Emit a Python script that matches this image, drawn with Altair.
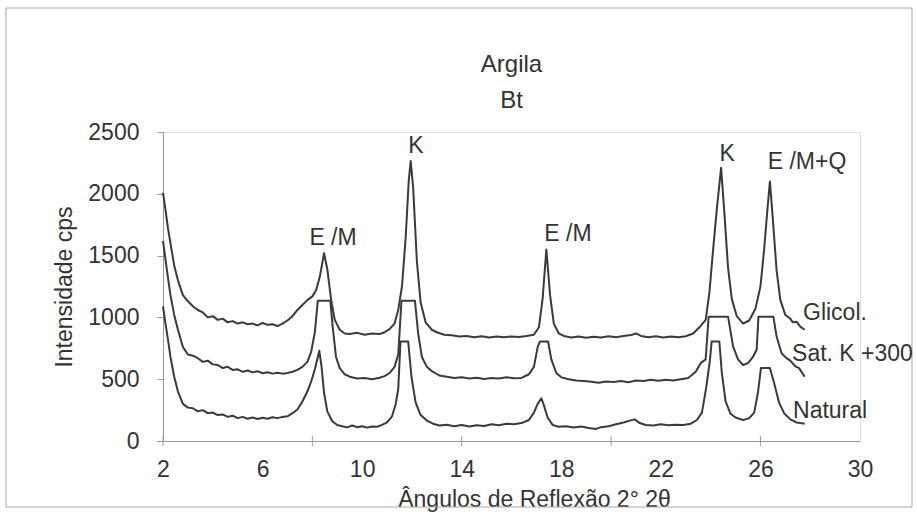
import altair as alt
import pandas as pd

FONT = "Liberation Sans Narrow, Liberation Sans, Arial Narrow, sans-serif"
INK = "#333333"
LINE = "#3a3a3a"

# ---- Glicol. (top trace) ----
glicol_theta = [2.0, 2.1, 2.2, 2.3, 2.45, 2.6, 2.8, 3.0, 3.2, 3.4, 3.6, 3.8, 4.0, 4.2, 4.4, 4.6, 4.8,
                5.0, 5.2, 5.4, 5.6, 5.8, 6.0, 6.2, 6.4, 6.6, 6.8, 7.0, 7.2, 7.4, 7.6, 7.8, 8.0, 8.15,
                8.3, 8.47, 8.6, 8.75, 8.9, 9.1, 9.3, 9.5, 9.8, 10.1, 10.4, 10.7, 10.9, 11.1, 11.3,
                11.45, 11.6, 11.75, 11.87, 11.95, 12.05, 12.2, 12.35, 12.55, 12.8, 13.0, 13.3, 13.6,
                13.9, 14.2, 14.5, 14.8, 15.1, 15.4, 15.7, 16.0, 16.3, 16.6, 16.9, 17.1, 17.25, 17.4,
                17.55, 17.7, 17.9, 18.1, 18.4, 18.7, 19.0, 19.3, 19.6, 19.9, 20.2, 20.5, 20.8, 21.0,
                21.2, 21.5, 21.8, 22.1, 22.4, 22.7, 23.0, 23.3, 23.55, 23.8, 23.95, 24.1, 24.25,
                24.42, 24.55, 24.7, 24.85, 25.05, 25.3, 25.55, 25.8, 26.0, 26.15, 26.25, 26.38, 26.5,
                26.65, 26.8, 27.0, 27.2, 27.3, 27.45, 27.6, 27.78]
glicol_int = [2010, 1870, 1720, 1600, 1420, 1300, 1180, 1130, 1090, 1060, 1040, 1000, 1010, 980, 990,
              960, 970, 950, 960, 945, 950, 935, 955, 940, 945, 930, 950, 975, 1010, 1060, 1100, 1140,
              1170, 1220, 1330, 1520, 1390, 1150, 980, 900, 870, 865, 875, 860, 870, 865, 880, 905,
              950, 1060, 1250, 1650, 2100, 2265, 2050, 1450, 1120, 960, 900, 880, 860, 855, 845, 850,
              840, 848, 838, 845, 840, 846, 842, 850, 860, 920, 1150, 1550, 1180, 950, 870, 850, 838,
              845, 836, 844, 838, 848, 840, 850, 858, 870, 850, 840, 848, 838, 846, 840, 848, 870,
              920, 980, 1200, 1550, 1880, 2210, 1850, 1400, 1150, 1010, 950, 975, 1070, 1250, 1550,
              1800, 2100, 1790, 1380, 1140, 1020, 990, 960, 965, 925, 900]

# ---- Sat. K +300 (middle trace) ----
satk_theta = [2.0, 2.1, 2.2, 2.3, 2.45, 2.6, 2.8, 3.0, 3.2, 3.4, 3.6, 3.8, 4.0, 4.2, 4.4, 4.6, 4.8,
              5.0, 5.2, 5.4, 5.6, 5.8, 6.0, 6.2, 6.4, 6.6, 6.8, 7.0, 7.2, 7.4, 7.6, 7.8, 7.95, 8.1,
              8.22, 8.72, 8.82, 8.95, 9.1, 9.3, 9.5, 9.8, 10.1, 10.4, 10.7, 10.9, 11.1, 11.3, 11.45,
              11.58, 12.12, 12.25, 12.4, 12.6, 12.8, 13.1, 13.4, 13.7, 14.0, 14.3, 14.6, 14.9, 15.2,
              15.5, 15.8, 16.1, 16.4, 16.7, 16.9, 17.05, 17.14, 17.47, 17.6, 17.8, 18.0, 18.3, 18.6,
              18.9, 19.2, 19.5, 19.8, 20.1, 20.4, 20.7, 21.0, 21.3, 21.6, 21.9, 22.2, 22.5, 22.8,
              23.1, 23.4, 23.6, 23.8, 23.92, 24.7, 24.9, 25.1, 25.3, 25.5, 25.7, 25.85, 25.92, 26.52,
              26.65, 26.85, 27.05, 27.2, 27.4, 27.55, 27.78]
satk_int = [1620, 1470, 1320, 1180, 1020, 900, 760, 700, 690, 670, 640, 650, 620, 615, 590, 600, 575,
            580, 560, 570, 555, 565, 548, 556, 545, 552, 545, 550, 560, 575, 600, 640, 720, 880, 1135,
            1135, 920, 680, 590, 540, 520, 505, 510, 500, 512, 525, 550, 600, 700, 1135, 1135, 870,
            680, 600, 565, 530, 520, 510, 515, 505, 512, 502, 510, 505, 515, 508, 510, 540, 600, 760,
            805, 805, 660, 550, 515, 500, 490, 485, 480, 472, 482, 478, 486, 476, 490, 485, 495, 488,
            496, 490, 500, 510, 560, 630, 660, 1006, 1006, 765, 660, 615, 630, 680, 740, 1006, 1006,
            845, 710, 670, 650, 605, 590, 520]

# ---- Natural (bottom trace) ----
nat_theta = [2.0, 2.1, 2.2, 2.3, 2.45, 2.6, 2.8, 3.0, 3.2, 3.4, 3.6, 3.8, 4.0, 4.2, 4.4, 4.6, 4.8,
             5.0, 5.2, 5.4, 5.6, 5.8, 6.0, 6.2, 6.4, 6.6, 6.8, 7.0, 7.2, 7.4, 7.6, 7.8, 7.95, 8.1,
             8.28, 8.37, 8.47, 8.6, 8.8, 9.0, 9.2, 9.4, 9.6, 9.8, 10.0, 10.2, 10.4, 10.6, 10.8, 11.0,
             11.2, 11.35, 11.45, 11.54, 11.85, 11.98, 12.15, 12.35, 12.6, 12.85, 13.1, 13.4, 13.7,
             14.0, 14.3, 14.6, 14.9, 15.2, 15.5, 15.8, 16.1, 16.4, 16.7, 16.9, 17.05, 17.2, 17.3,
             17.45, 17.65, 17.9, 18.2, 18.5, 18.8, 19.1, 19.4, 19.6, 19.9, 20.2, 20.5, 20.75, 20.95,
             21.15, 21.4, 21.7, 22.0, 22.3, 22.6, 22.9, 23.2, 23.45, 23.65, 23.82, 23.97, 24.04,
             24.35, 24.45, 24.6, 24.8, 25.0, 25.3, 25.55, 25.75, 25.9, 26.02, 26.38, 26.55, 26.75,
             26.95, 27.2, 27.45, 27.6, 27.78]
nat_int = [1090, 950, 820, 680, 520, 400, 300, 270, 265, 240, 250, 225, 230, 210, 215, 195, 205, 185,
           195, 180, 190, 178, 188, 180, 192, 185, 195, 200, 225, 255, 320, 400, 480, 580, 730, 600,
           390, 240, 160, 130, 120, 110, 125, 112, 120, 108, 118, 115, 130, 150, 200, 300, 420, 805,
           805, 520, 310, 210, 165, 140, 125, 132, 120, 130, 118, 128, 122, 135, 128, 140, 135, 145,
           170, 230, 300, 345, 290, 190, 130, 115, 120, 110, 118, 105, 98, 112, 120, 135, 150, 165,
           175, 145, 130, 125, 135, 128, 132, 130, 140, 170, 230, 430, 650, 805, 805, 550, 320, 220,
           190, 170, 185, 230, 390, 590, 590, 470, 310, 225, 175, 150, 145, 140]

# ---- Annotations ----
title_lines = ["Argila", "Bt"]

peak_labels = ["E /M", "K", "E /M", "K", "E /M+Q"]
peak_theta = [8.83, 12.16, 18.27, 24.66, 27.87]
peak_int = [1642, 2390, 1675, 2322, 2257]

series_labels = ["Glicol.", "Sat. K +300", "Natural"]
series_theta = [27.71, 27.27, 27.31]
series_int = [1036, 704, 243]

x_label_values = [2, 6, 10, 14, 18, 22, 26, 30]
x_tick_values = [2, 8, 14, 20, 26]
y_values = [0, 500, 1000, 1500, 2000, 2500]

rows = []
for name, th, iv in [("Glicol.", glicol_theta, glicol_int),
                     ("Sat. K +300", satk_theta, satk_int),
                     ("Natural", nat_theta, nat_int)]:
    for t, v in zip(th, iv):
        rows.append({"serie": name, "theta": t, "int": v})
df = pd.DataFrame(rows)

W, H = 697, 309

xscale = alt.Scale(domain=[2, 30], nice=False, zero=False)
yscale = alt.Scale(domain=[0, 2500], nice=False)

x_enc = alt.X("theta:Q", scale=xscale,
              axis=alt.Axis(values=x_label_values, ticks=False, grid=False, domainColor="#9a9a9a",
                            domainWidth=1, labelFont=FONT, labelFontSize=23, labelColor=INK,
                            labelPadding=17, labelFlush=False, format="d",
                            title="Ângulos de Reflexão 2° 2θ", titleFont=FONT, titleFontSize=23,
                            titleFontWeight="normal", titleColor=INK, titleX=371, titleY=65,
                            titleBaseline="alphabetic", titleAlign="center"))
y_enc = alt.Y("int:Q", scale=yscale,
              axis=alt.Axis(values=y_values, grid=False, domainColor="#9a9a9a", domainWidth=1,
                            tickColor="#9a9a9a", tickSize=6, labelFont=FONT, labelFontSize=23,
                            labelColor=INK, labelPadding=18, format="d",
                            title="Intensidade cps", titleFont=FONT, titleFontSize=23,
                            titleFontWeight="normal", titleColor=INK, titleX=-99, titleY=154.5,
                            titleAngle=-90, titleBaseline="middle", titleAlign="center"))

lines = alt.Chart(df).mark_line(color=LINE, strokeWidth=2, strokeJoin="round").encode(
    x=x_enc, y=y_enc, detail="serie:N")

ticks = alt.Chart(pd.DataFrame({"t": x_tick_values})).mark_rule(color="#9a9a9a", strokeWidth=1).encode(
    x=alt.X("t:Q", scale=xscale), y=alt.value(H - 5), y2=alt.value(H + 5))

peaks = alt.Chart(pd.DataFrame({"lab": peak_labels, "t": peak_theta, "v": peak_int})).mark_text(
    font=FONT, fontSize=23, color=INK, baseline="middle", align="center").encode(
    x=alt.X("t:Q", scale=xscale), y=alt.Y("v:Q", scale=yscale), text="lab:N")

names = alt.Chart(pd.DataFrame({"lab": series_labels, "t": series_theta, "v": series_int})).mark_text(
    font=FONT, fontSize=23, color=INK, baseline="middle", align="left").encode(
    x=alt.X("t:Q", scale=xscale), y=alt.Y("v:Q", scale=yscale), text="lab:N")

title_a = alt.Chart(pd.DataFrame({"lab": [title_lines[0]]})).mark_text(
    font=FONT, fontSize=24, color=INK, baseline="middle", align="center").encode(
    x=alt.value(W / 2), y=alt.value(-67), text="lab:N")
title_b = alt.Chart(pd.DataFrame({"lab": [title_lines[1]]})).mark_text(
    font=FONT, fontSize=24, color=INK, baseline="middle", align="center").encode(
    x=alt.value(W / 2), y=alt.value(-31), text="lab:N")

frame = alt.Chart(pd.DataFrame({"a": [0]})).mark_rect(filled=False, stroke="#a8a8a8", strokeWidth=1).encode(
    x=alt.value(-157), x2=alt.value(749), y=alt.value(-124), y2=alt.value(375))

chart = alt.layer(frame, ticks, lines, peaks, names, title_a, title_b).properties(
    width=W, height=H,
    autosize=alt.AutoSizeParams(type="none"),
    padding={"left": 163, "top": 132, "right": 57, "bottom": 73},
).configure_view(stroke=None).configure(background="white")

chart.save("out.html", embed_options={"renderer": "svg", "actions": False})
